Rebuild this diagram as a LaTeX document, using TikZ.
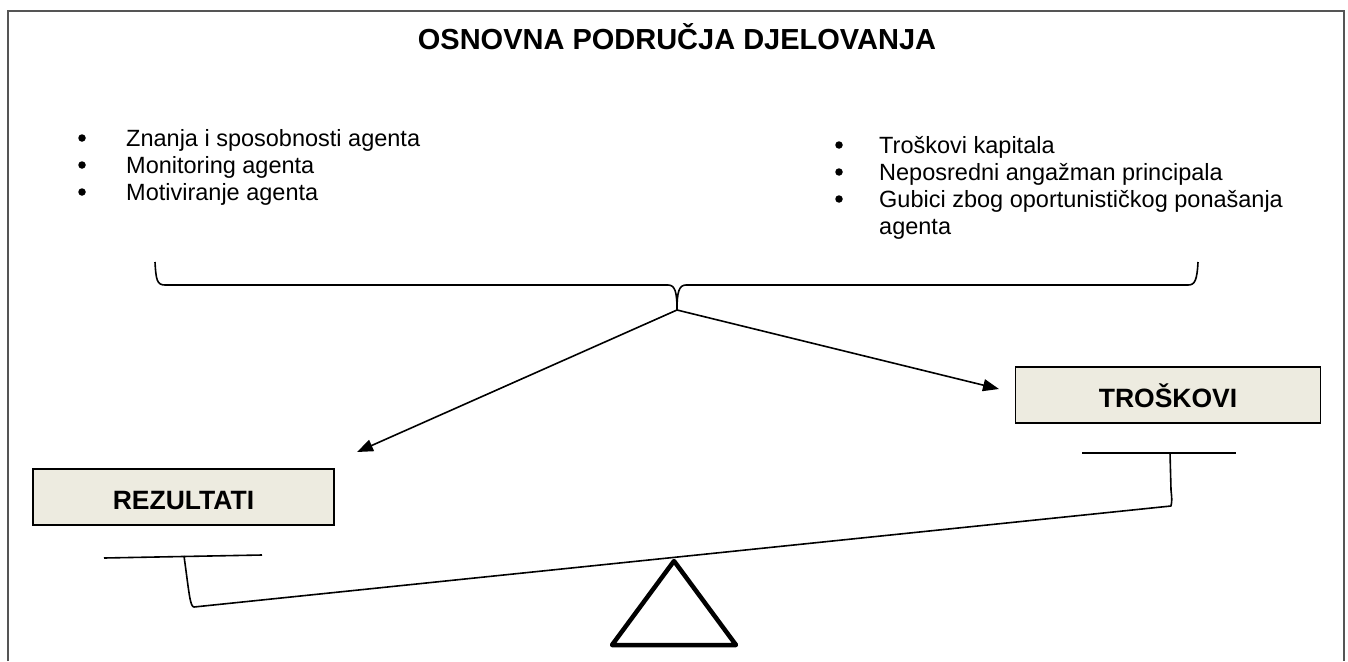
\documentclass[tikz,border=0pt]{standalone}
\usepackage{fontspec}
\setmainfont{Liberation Sans}
\usetikzlibrary{arrows.meta}
\definecolor{boxfill}{HTML}{EDEBE0}
\definecolor{framegray}{HTML}{555555}
\begin{document}
\begin{tikzpicture}[x=1pt,y=-1pt,
  bullettext/.style={anchor=base west, inner sep=0pt, font=\fontsize{23.5}{27}\selectfont},
  bulletdot/.style={circle, fill=black, inner sep=0pt, minimum size=7.5pt},
  thinline/.style={line width=1.6pt},
  valbox/.style={draw=black, line width=1.6pt, fill=boxfill, minimum height=56pt,
    text height=24pt, text depth=0pt, inner sep=0pt, font=\bfseries\fontsize{26.5}{30}\selectfont},
  arr/.style={line width=1.6pt, -{Triangle[length=16pt,width=12pt]}}
]
\useasboundingbox (0,0) rectangle (1348,661);
% frame
\draw[framegray, line width=2pt] (8,661) -- (8,11) -- (1344,11) -- (1344,661);
% title
\node[anchor=base, inner sep=0pt, font=\bfseries\fontsize{29}{32}\selectfont] (title) at (677,49) {OSNOVNA PODRUČJA DJELOVANJA};
% left bullets
\node[bulletdot] (bl1) at (82,138) {};
\node[bulletdot] (bl2) at (82,165) {};
\node[bulletdot] (bl3) at (82,192) {};
\node[bullettext] (l1) at (126,146) {Znanja i sposobnosti agenta};
\node[bullettext] (l2) at (126,173) {Monitoring agenta};
\node[bullettext] (l3) at (126,200) {Motiviranje agenta};
% right bullets
\node[bulletdot] (br1) at (839,145) {};
\node[bulletdot] (br2) at (839,172) {};
\node[bulletdot] (br3) at (839,199) {};
\node[bullettext] (r1) at (879,153) {Troškovi kapitala};
\node[bullettext] (r2) at (879,180) {Neposredni angažman principala};
\node[bullettext] (r3) at (879,207) {Gubici zbog oportunističkog ponašanja};
\node[bullettext] (r4) at (879,234) {agenta};
% brace
\coordinate (bL) at (155,262);
\coordinate (bR) at (1198,262);
\coordinate (bM) at (677,310);
\draw[thinline] (bL) .. controls (156,280) and (157,285) .. (165,285) -- (668,285)
  .. controls (675,285) and (677,292) .. (bM);
\draw[thinline] (bM) .. controls (677,292) and (679,285) .. (686,285) -- (1188,285)
  .. controls (1195,285) and (1197,280) .. (bR);
% boxes
\node[valbox, minimum width=301pt] (rez) at (183.5,497) {REZULTATI};
\node[valbox, minimum width=305pt] (tro) at (1168,395) {TROŠKOVI};
% arrows
\coordinate (tipL) at (357,452);
\coordinate (tipR) at (999,389);
\draw[arr] (bM) -- (tipL);
\draw[arr] (bM) -- (tipR);
% scale
\coordinate (panLa) at (104,558);
\coordinate (panLb) at (262,555);
\coordinate (hangL) at (184,556);
\coordinate (beamL) at (194,607);
\coordinate (beamR) at (1171,506);
\coordinate (hangR) at (1170,453);
\coordinate (panRa) at (1082,453);
\coordinate (panRb) at (1236,453);
\draw[thinline] (panLa) -- (panLb);
\draw[thinline, line join=round] (hangL) .. controls (189,592) and (190,607) .. (beamL) -- (beamR)
  .. controls (1172,500) .. (1171,490) -- (hangR);
\draw[thinline] (panRa) -- (panRb);
% fulcrum
\coordinate (apex) at (674,561);
\coordinate (baseR) at (736,645);
\coordinate (baseL) at (612,645);
\draw[line width=4.5pt, line join=round, line cap=round] (apex) -- (baseR) -- (baseL) -- cycle;
\end{tikzpicture}
\end{document}
